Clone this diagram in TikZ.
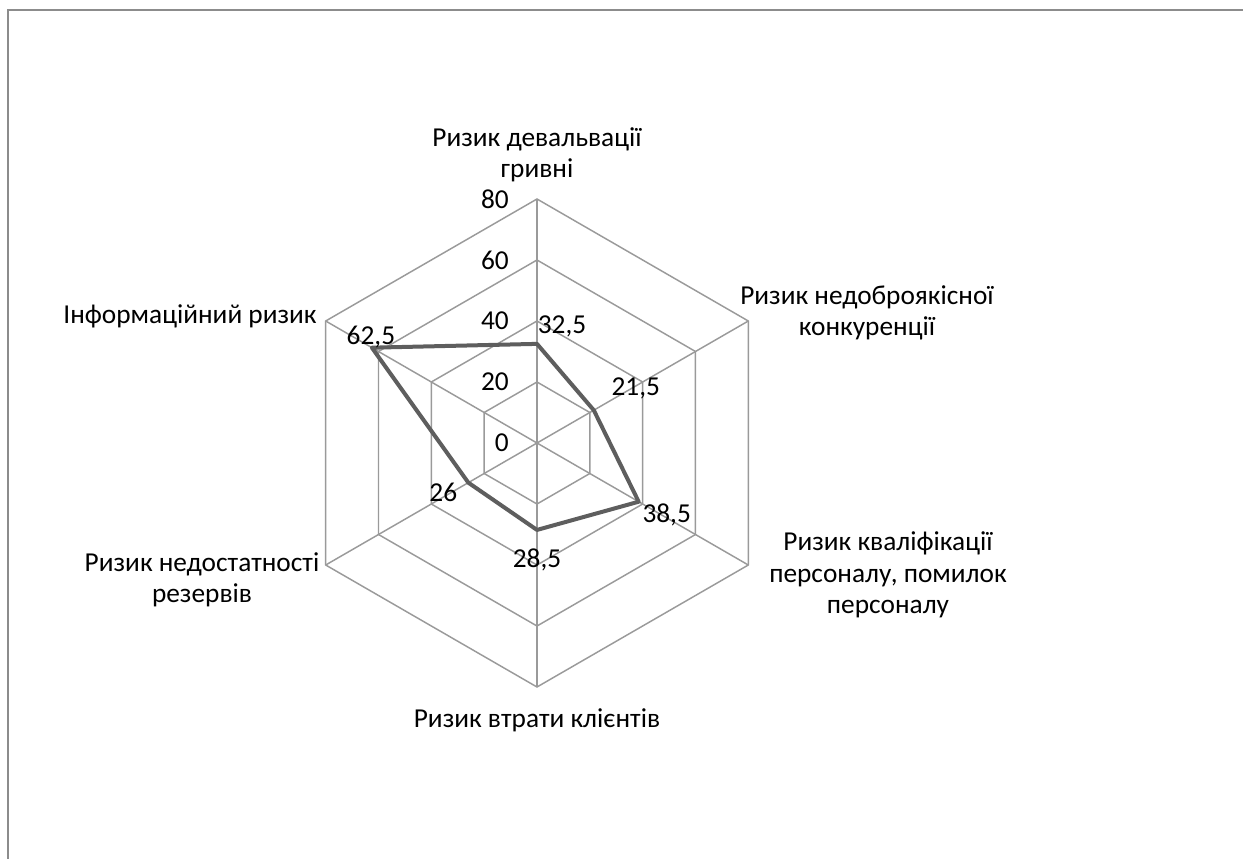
\documentclass[tikz,border=0pt]{standalone}
\usepackage{fontspec}
\setmainfont{Carlito}
\usepackage{xcolor}
\usepackage{tikz}
\usetikzlibrary{positioning}
\definecolor{gridgray}{HTML}{9A9A9A}
\definecolor{linegray}{HTML}{5E5E5E}
\definecolor{framegray}{HTML}{8C8C8C}

\begin{document}
\begin{tikzpicture}[
  x=0.75pt, y=0.75pt,
  grid/.style={draw=gridgray, line width=1.1pt},
  series/.style={draw=linegray, line width=3pt, line join=round},
  axislabel/.style={font=\fontsize{20.5}{23.5}\selectfont, align=center, text=black},
  ticklabel/.style={font=\fontsize{20.5}{23.5}\selectfont, anchor=east, inner sep=0pt},
  vallabel/.style={font=\fontsize{20.5}{23.5}\selectfont, inner sep=0pt}
]
% canvas and outer frame
\useasboundingbox (-537,-415) rectangle (706,443);
\begin{scope}
\clip (-537,-415) rectangle (706,443);
\draw[draw=framegray, line width=1.1pt] (-529,-430) -- (-529,433) -- (720,433);
\end{scope}

% web
\foreach \r in {20,40,60,80} {
  \draw[grid] (90:3.05*\r) -- (30:3.05*\r) -- (-30:3.05*\r) -- (-90:3.05*\r)
    -- (-150:3.05*\r) -- (150:3.05*\r) -- cycle;
}
\coordinate (c) at (0,0);
\foreach \a in {90,30,-30,-90,-150,150} {
  \draw[grid] (c) -- (\a:244);
}

% scale
\node[ticklabel] (t0) at (-28,0) {0};
\node[ticklabel] (t20) at (-28,61) {20};
\node[ticklabel] (t40) at (-28,122) {40};
\node[ticklabel] (t60) at (-28,183) {60};
\node[ticklabel] (t80) at (-28,244) {80};

% series
\coordinate (p1) at (90:3.05*32.5);
\coordinate (p2) at (30:3.05*21.5);
\coordinate (p3) at (-30:3.05*38.5);
\coordinate (p4) at (-90:3.05*28.5);
\coordinate (p5) at (-150:3.05*26);
\coordinate (p6) at (150:3.05*62.5);
\draw[series] (p1) -- (p2) -- (p3) -- (p4) -- (p5) -- (p6) -- cycle;

\node[vallabel, shift={(25,17)}] (v1) at (p1) {32,5};
\node[vallabel, shift={(42,22)}] (v2) at (p2) {21,5};
\node[vallabel, shift={(28,-13)}] (v3) at (p3) {38,5};
\node[vallabel, shift={(0,-30)}] (v4) at (p4) {28,5};
\node[vallabel, shift={(-25,-10)}] (v5) at (p5) {26};
\node[vallabel, shift={(-1,11)}] (v6) at (p6) {62,5};

% categories
\node[axislabel] (a1) at (0,288) {Ризик девальвації\\гривні};
\node[axislabel] (a2) at (330,130) {Ризик недоброякісної\\конкуренції};
\node[axislabel] (a3) at (351,-132) {Ризик кваліфікації\\персоналу, помилок\\персоналу};
\node[axislabel] (a4) at (0,-277) {Ризик втрати клієнтів};
\node[axislabel] (a5) at (-335,-137) {Ризик недостатності\\резервів};
\node[axislabel] (a6) at (-347,127) {Інформаційний ризик};

\end{tikzpicture}
\end{document}
